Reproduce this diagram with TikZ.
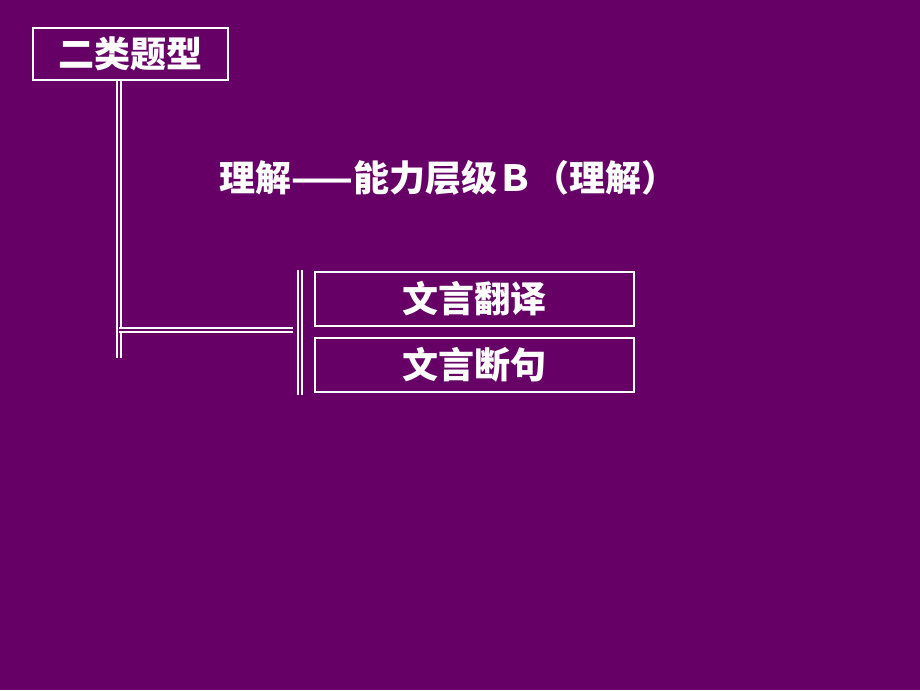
\documentclass[tikz,border=0pt]{standalone}
\usepackage{fontspec}
\setmainfont{Noto Sans CJK SC}
\usepackage{tikz}
\definecolor{bgpurple}{RGB}{102 0 102}
\tikzstyle{titlebox} = [rectangle, minimum width=3.9cm, minimum height=1.04cm, text centered, draw=white, line width=1.2pt, text=white, font=\bfseries\fontsize{20.5}{24}\selectfont]
\tikzstyle{itembox} = [rectangle, minimum width=6.38cm, minimum height=1.08cm, text centered, draw=white, line width=1.1pt, text=white, font=\bfseries\fontsize{20.5}{24}\selectfont]
\tikzstyle{bar} = [draw=white, line width=1.1pt, double=bgpurple, double distance=1.3pt]

\begin{document}
\begin{tikzpicture}
        \fill[bgpurple] (0,0) rectangle (18.4,13.8);
        \useasboundingbox (0,0) rectangle (18.4,13.8);
        \node (type) [titlebox] at (2.61,12.72) {二类题型};
        \node (level) [text=white, font=\bfseries\fontsize{20.5}{24}\selectfont] at (8.97,10.24) {理解——能力层级Ｂ（理解）};
        \node (trans) [itembox] at (9.49,7.82) {文言翻译};
        \node (punct) [itembox] at (9.49,6.50) {文言断句};
        \coordinate (vbot) at (2.38,6.64);
        \coordinate (hleft) at (2.38,7.2);
        \coordinate (hright) at (5.86,7.2);
        \coordinate (bartop) at (6.0,8.4);
        \coordinate (barbot) at (6.0,5.9);
        \draw [bar] (type.south -| vbot) -- (vbot);
        \draw [bar] (hleft) -- (hright);
        \draw [bar] (bartop) -- (barbot);
    \end{tikzpicture}
\end{document}
